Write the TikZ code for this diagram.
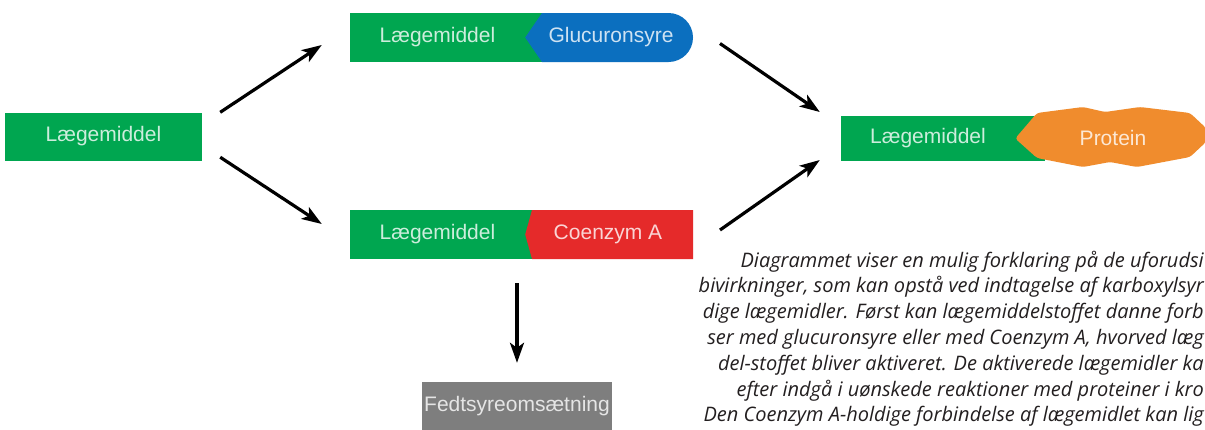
\documentclass[tikz,border=0pt]{standalone}
\usepackage{fontspec}
\setmainfont{Liberation Sans}
\newfontfamily\notefont{Open Sans}
\usetikzlibrary{arrows.meta, calc}
\definecolor{druggreen}{HTML}{00A650}
\definecolor{glucblue}{HTML}{0B6FBF}
\definecolor{coared}{HTML}{E52A2A}
\definecolor{protorange}{HTML}{F08C2D}
\definecolor{fatgray}{HTML}{7E7E7E}
\definecolor{inknote}{HTML}{231F20}
\newcommand{\drugbox}[4]{%
  \node[fill=druggreen, minimum width=#3, minimum height=#4, inner sep=0pt,
        text=white!80!druggreen] (#1) at (#2) {Lægemiddel};}

\begin{document}
\begin{tikzpicture}[x=1pt, y=-1pt, font=\fontsize{21}{25}\selectfont,
    flow/.style={-{Stealth[length=20pt, width=14pt, inset=5pt]}, line width=3.2pt, black},
    note/.style={anchor=base east, inner sep=0pt, text=inknote,
                 font=\notefont\itshape\fontsize{20}{24}\selectfont}]
  \useasboundingbox (0,0) rectangle (1205,429);
  \fill[white] (0,0) rectangle (1205,429);
  \clip (0,0) rectangle (1205,429);

  \drugbox{d0}{103.5,136.5}{197pt}{48pt}

  \drugbox{d1}{437.5,37.5}{175pt}{49pt}
  \fill[druggreen] (d1.north east) rectangle ++(20,49);
  \fill[glucblue] (d1.east) -- (542,13) -- (668.5,13) arc(-90:90:24.5)
    -- (542,62) -- cycle;
  \node[text=white!80!glucblue] (gluc) at (611,37.5) {Glucuronsyre};
  \coordinate (glucend) at (693,37.5);

  \drugbox{d2}{437.5,234.5}{175pt}{49pt}
  \fill[druggreen] (d2.north east) rectangle ++(10,49);
  \fill[coared] (d2.east) -- (532,210) -- (693,210) -- (693,259)
    -- (532,259) -- cycle;
  \node[text=white!80!coared] (coa) at (608,234.5) {Coenzym A};
  \coordinate (coaend) at (693,234.5);

  \drugbox{d3}{928,138.5}{174pt}{45pt}
  \fill[druggreen] (d3.north east) rectangle ++(30,45);
  \fill[protorange, rounded corners=3pt] (d3.east) -- (1037,113) -- (1083,107)
    -- (1105,112) -- (1140,107) -- (1190,113) -- (1206,128) -- (1206,142)
    -- (1190,157) -- (1137,167) -- (1110,162) -- (1083,167) -- (1037,158)
    -- cycle;
  \node[text=white!80!protorange] (prot) at (1113,138) {Protein};

  \node[fill=fatgray, minimum width=190pt, minimum height=49pt, inner sep=0pt,
        text=white!80!fatgray] (fat) at (517,406.5) {Fedtsyreomsætning};

  \draw[flow] ($(d0.north east)+(18,0)$) -- ($(d1.west)+(-28,7.5)$);
  \draw[flow] ($(d0.south east)+(18,-3.5)$) -- ($(d2.west)+(-28,-10.5)$);
  \draw[flow] ($(glucend)+(27,6)$) -- ($(d3.west)+(-21,-26.5)$);
  \draw[flow] ($(coaend)+(27,-4.5)$) -- ($(d3.west)+(-21,21.5)$);
  \draw[flow] ($(fat.north |- d2.south)+(0,24)$) -- ($(fat.north)+(0,-19)$);

  \node[note] (n1) at (1204,267) {Diagrammet viser en mulig forklaring på de uforudsi};
  \node[note] (n2) at (1204,292.8) {bivirkninger, som kan opstå ved indtagelse af karboxylsyr};
  \node[note] (n3) at (1204,318.6) {dige lægemidler. Først kan lægemiddelstoffet danne forb};
  \node[note] (n4) at (1204,344.4) {ser med glucuronsyre eller med Coenzym A, hvorved læg};
  \node[note] (n5) at (1204,370.2) {del-stoffet bliver aktiveret. De aktiverede lægemidler ka};
  \node[note] (n6) at (1204,396) {efter indgå i uønskede reaktioner med proteiner i kro};
  \node[note] (n7) at (1204,421.8) {Den Coenzym A-holdige forbindelse af lægemidlet kan lig};
\end{tikzpicture}
\end{document}
